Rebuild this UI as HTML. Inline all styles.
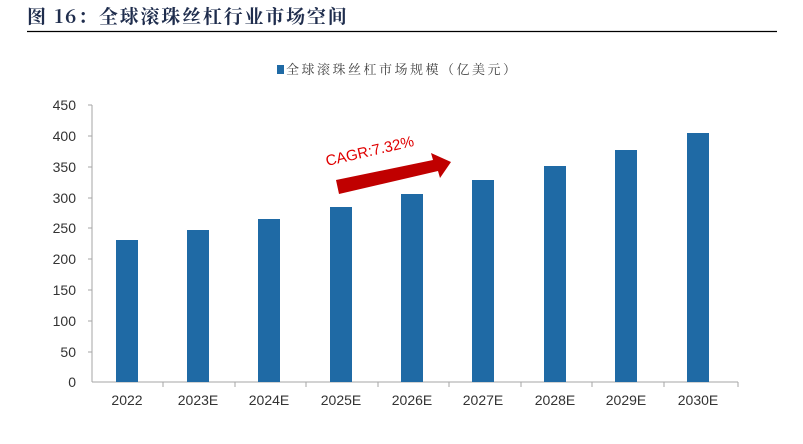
<!DOCTYPE html>
<html><head><meta charset="utf-8"><style>
body{margin:0;background:#fff;width:803px;height:439px;overflow:hidden}
</style></head><body>
<svg width="803" height="439" xmlns="http://www.w3.org/2000/svg" font-family="Liberation Sans, Noto Sans CJK SC, sans-serif">
<text x="27" y="23" font-size="19" font-weight="bold" fill="#1f2d4d" letter-spacing="1.8" font-family="Noto Serif CJK SC, Noto Sans CJK SC, serif">图 16：全球滚珠丝杠行业市场空间</text>
<line x1="27" y1="31.5" x2="777" y2="31.5" stroke="#000" stroke-width="1.3"/>
<rect x="277" y="65" width="7" height="9" fill="#1f6aa5"/>
<text x="286" y="74" font-size="13" fill="#444" letter-spacing="2.5" font-family="Noto Serif CJK SC, serif">全球滚珠丝杠市场规模（亿美元）</text>
<g stroke="#a6a6a6" stroke-width="1">
<line x1="92" y1="105" x2="92" y2="382"/>
<line x1="92" y1="382" x2="738" y2="382"/>
</g>
<g font-size="14" fill="#333" text-anchor="end">
<text x="76" y="110">450</text><text x="76" y="141">400</text><text x="76" y="172">350</text><text x="76" y="203">300</text><text x="76" y="233">250</text><text x="76" y="264">200</text><text x="76" y="295">150</text><text x="76" y="326">100</text><text x="76" y="357">50</text><text x="76" y="387">0</text>
</g>
<g stroke="#a6a6a6">
<line x1="88" y1="105" x2="92" y2="105"/><line x1="88" y1="136" x2="92" y2="136"/><line x1="88" y1="167" x2="92" y2="167"/><line x1="88" y1="198" x2="92" y2="198"/><line x1="88" y1="228" x2="92" y2="228"/><line x1="88" y1="259" x2="92" y2="259"/><line x1="88" y1="290" x2="92" y2="290"/><line x1="88" y1="321" x2="92" y2="321"/><line x1="88" y1="352" x2="92" y2="352"/>
<line x1="163" y1="382" x2="163" y2="387"/><line x1="235" y1="382" x2="235" y2="387"/><line x1="306" y1="382" x2="306" y2="387"/><line x1="378" y1="382" x2="378" y2="387"/><line x1="449" y1="382" x2="449" y2="387"/><line x1="521" y1="382" x2="521" y2="387"/><line x1="592" y1="382" x2="592" y2="387"/><line x1="664" y1="382" x2="664" y2="387"/><line x1="738" y1="382" x2="738" y2="387"/>
</g>
<g fill="#1f6aa5">
<rect x="116" y="240" width="22" height="142"/>
<rect x="187" y="230" width="22" height="152"/>
<rect x="258" y="219" width="22" height="163"/>
<rect x="330" y="207" width="22" height="175"/>
<rect x="401" y="194" width="22" height="188"/>
<rect x="472" y="180" width="22" height="202"/>
<rect x="544" y="166" width="22" height="216"/>
<rect x="615" y="150" width="22" height="232"/>
<rect x="687" y="133" width="22" height="249"/>
</g>
<g font-size="14" fill="#333" text-anchor="middle">
<text x="127" y="405">2022</text><text x="198" y="405">2023E</text><text x="269" y="405">2024E</text><text x="341" y="405">2025E</text><text x="412" y="405">2026E</text><text x="483" y="405">2027E</text><text x="555" y="405">2028E</text><text x="626" y="405">2029E</text><text x="698" y="405">2030E</text>
</g>
<polygon points="336,180 433,160 431,153 451,162 440,178 438,171 339,194" fill="#c00000"/>
<text x="0" y="0" font-size="15" fill="#e00000" transform="translate(327,166) rotate(-13)">CAGR:7.32%</text>
</svg>
</body></html>
